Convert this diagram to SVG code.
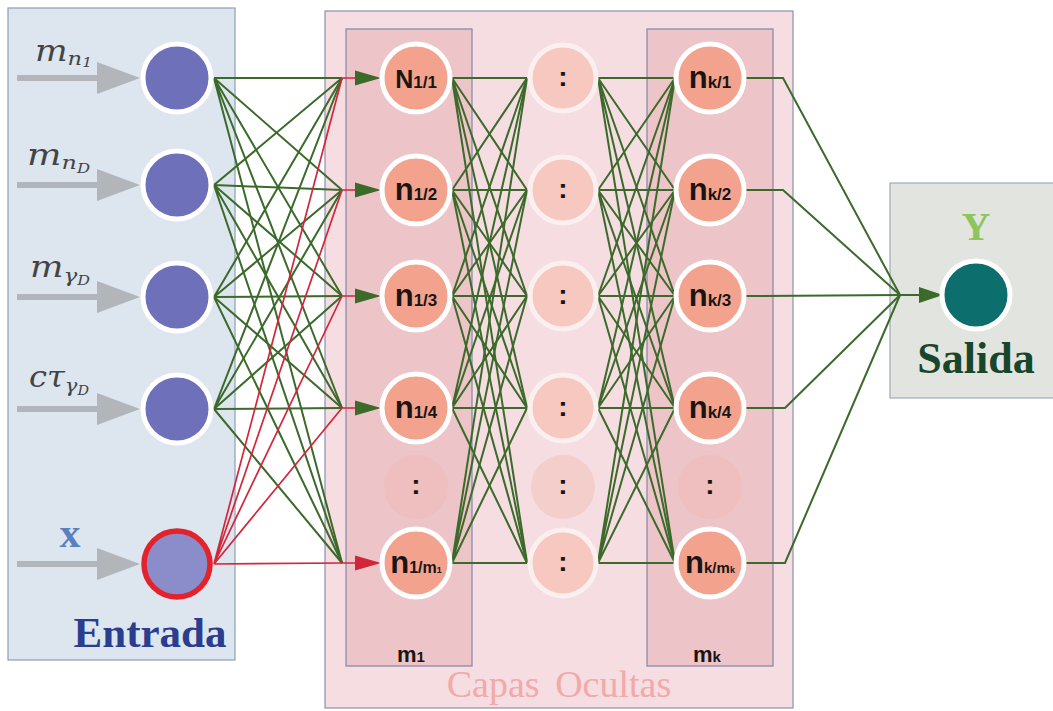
<svg xmlns="http://www.w3.org/2000/svg" width="1053" height="711" viewBox="0 0 1053 711">
<style>
.panel-in{fill:#dde5ee;stroke:#8c9fb8;stroke-width:1.2}
.panel-hid{fill:#f5dde1;stroke:#8a92b0;stroke-width:1.2}
.col{fill:#edc4c7;stroke:#7f88aa;stroke-width:1.2}
.panel-out{fill:#e2e4df;stroke:#9eaab8;stroke-width:1.2}
.inode{fill:#6e70b9;stroke:#ffffff;stroke-width:5}
.hnode{fill:#f3a38d;stroke:#ffffff;stroke-width:5}
.mnode{fill:#f6c8bf;stroke:#fbf0ef;stroke-width:5}
.dnode{fill:#eebdbb;opacity:0.75}
.dmid{fill:#f3cac4;opacity:0.8}
.g{fill:none;stroke:#3b6a2b;stroke-width:2}
.r{fill:none;stroke:#d2263a;stroke-width:1.7}
.garrow{fill:#3b6a2b}
.rarrow{fill:#d2263a}
.gray{fill:#b2b5ba}
.lab{font-family:"Liberation Sans",Arial,sans-serif;font-weight:bold;fill:#1a1414;text-anchor:middle}
.math{font-family:"DejaVu Serif","Liberation Serif",serif;font-style:italic;fill:#444}
.dots{font-family:"Liberation Sans",Arial,sans-serif;font-weight:bold;font-size:28px;fill:#1a1414;text-anchor:middle}
</style>

<!-- panels -->
<rect class="panel-in" x="8" y="8" width="227" height="652"/>
<rect class="panel-hid" x="325" y="11" width="468" height="697"/>
<rect class="col" x="346" y="29" width="126" height="637"/>
<rect class="col" x="647" y="29" width="126" height="637"/>
<rect class="panel-out" x="890" y="183" width="170" height="215"/>

<!-- input arrows -->
<g id="input-arrows">
<path class="gray" d="M17 75H97V62L140 78L97 94V81H17Z"/>
<path class="gray" d="M17 182H97V169L140 185L97 201V188H17Z"/>
<path class="gray" d="M17 294H97V281L140 297L97 313V300H17Z"/>
<path class="gray" d="M17 406H97V393L140 409L97 425V412H17Z"/>
<path class="gray" d="M17 561H97V548L140 564L97 580V567H17Z"/>
</g>

<!-- connectors -->
<g id="connectors">
<path class="g" d="M214 78L342 78M214 78L342 190M214 78L342 296M214 78L342 408M214 78L342 563"/>
<path class="g" d="M214 185L342 78M214 185L342 190M214 185L342 296M214 185L342 408M214 185L342 563"/>
<path class="g" d="M214 297L342 78M214 297L342 190M214 297L342 296M214 297L342 408M214 297L342 563"/>
<path class="g" d="M214 409L342 78M214 409L342 190M214 409L342 296M214 409L342 408M214 409L342 563"/>
<path class="r" d="M214 564L342 78M214 564L342 190M214 564L342 296M214 564L342 408M214 564L342 563"/>
<path class="r" d="M342 78H360M342 190H360M342 296H360M342 408H360M342 563H360"/>
<path class="garrow" d="M355 70.5L381 78L355 85.5Z"/>
<path class="garrow" d="M355 182.5L381 190L355 197.5Z"/>
<path class="garrow" d="M355 288.5L381 296L355 303.5Z"/>
<path class="garrow" d="M355 400.5L381 408L355 415.5Z"/>
<path class="rarrow" d="M355 555.5L381 563L355 570.5Z"/>

<path class="g" d="M452 78L527 78M452 78L527 190M452 78L527 296M452 78L527 408M452 78L527 563"/>
<path class="g" d="M452 190L527 78M452 190L527 190M452 190L527 296M452 190L527 408M452 190L527 563"/>
<path class="g" d="M452 296L527 78M452 296L527 190M452 296L527 296M452 296L527 408M452 296L527 563"/>
<path class="g" d="M452 408L527 78M452 408L527 190M452 408L527 296M452 408L527 408M452 408L527 563"/>
<path class="g" d="M452 563L527 78M452 563L527 190M452 563L527 296M452 563L527 408M452 563L527 563"/>

<path class="g" d="M598 78L675 78M598 78L675 190M598 78L675 296M598 78L675 408M598 78L675 563"/>
<path class="g" d="M598 190L675 78M598 190L675 190M598 190L675 296M598 190L675 408M598 190L675 563"/>
<path class="g" d="M598 296L675 78M598 296L675 190M598 296L675 296M598 296L675 408M598 296L675 563"/>
<path class="g" d="M598 408L675 78M598 408L675 190M598 408L675 296M598 408L675 408M598 408L675 563"/>
<path class="g" d="M598 563L675 78M598 563L675 190M598 563L675 296M598 563L675 408M598 563L675 563"/>

<path class="g" d="M746 78H783L900 295"/>
<path class="g" d="M746 190H783L900 295"/>
<path class="g" d="M746 296L900 295H922"/>
<path class="g" d="M746 408H785L900 295"/>
<path class="g" d="M746 563H785L900 295"/>
<path class="garrow" d="M919 287L943 295L919 303Z"/>
</g>

<!-- input nodes -->
<g id="in1"><circle class="inode" cx="177" cy="78" r="34"/>
<text class="math" x="35" y="61" font-size="29" textLength="57" lengthAdjust="spacingAndGlyphs">m<tspan font-size="19" dy="4">n</tspan><tspan font-size="13" dy="2">1</tspan></text></g>
<g id="in2"><circle class="inode" cx="177" cy="185" r="34"/>
<text class="math" x="27" y="165" font-size="29" textLength="63" lengthAdjust="spacingAndGlyphs">m<tspan font-size="19" dy="4">n</tspan><tspan font-size="13" dy="4">D</tspan></text></g>
<g id="in3"><circle class="inode" cx="177" cy="297" r="34"/>
<text class="math" x="30" y="277" font-size="29" textLength="60" lengthAdjust="spacingAndGlyphs">m<tspan font-size="19" dy="5">γ</tspan><tspan font-size="13" dy="3">D</tspan></text></g>
<g id="in4"><circle class="inode" cx="177" cy="409" r="34"/>
<text class="math" x="29" y="387" font-size="29" textLength="60" lengthAdjust="spacingAndGlyphs">cτ<tspan font-size="19" dy="5">γ</tspan><tspan font-size="13" dy="3">D</tspan></text></g>
<g id="in5"><circle cx="177" cy="564" r="33" fill="#8b8dca" stroke="#e3222c" stroke-width="5.5"/>
<text x="70" y="547" font-family="Liberation Serif,serif" font-weight="bold" font-size="42" fill="#5b80c2" text-anchor="middle">x</text></g>
<text x="150" y="647" font-family="Liberation Serif,serif" font-weight="bold" font-size="43" fill="#2a3d8f" text-anchor="middle">Entrada</text>

<!-- hidden layer 1 -->
<g id="h1-1"><circle class="hnode" cx="416" cy="78" r="34"/><text class="lab" x="416" y="88" font-size="25">N<tspan font-size="17">1/1</tspan></text></g>
<g id="h1-2"><circle class="hnode" cx="416" cy="190" r="34"/><text class="lab" x="416" y="200" font-size="31">n<tspan font-size="17">1/2</tspan></text></g>
<g id="h1-3"><circle class="hnode" cx="416" cy="296" r="34"/><text class="lab" x="416" y="306" font-size="31">n<tspan font-size="17">1/3</tspan></text></g>
<g id="h1-4"><circle class="hnode" cx="416" cy="408" r="34"/><text class="lab" x="416" y="418" font-size="31">n<tspan font-size="17">1/4</tspan></text></g>
<g id="h1-d"><circle class="dnode" cx="416" cy="487" r="32"/><text class="dots" x="416" y="494">:</text></g>
<g id="h1-m"><circle class="hnode" cx="416" cy="563" r="34"/><text class="lab" x="416" y="573" font-size="31">n<tspan font-size="16">1/m</tspan><tspan font-size="9">1</tspan></text></g>
<text class="lab" x="411" y="662" font-size="22">m<tspan font-size="15">1</tspan></text>

<!-- middle hidden -->
<g id="hm-1"><circle class="mnode" cx="563" cy="78" r="33"/><text class="dots" x="563" y="86">:</text></g>
<g id="hm-2"><circle class="mnode" cx="563" cy="190" r="33"/><text class="dots" x="563" y="198">:</text></g>
<g id="hm-3"><circle class="mnode" cx="563" cy="296" r="33"/><text class="dots" x="563" y="304">:</text></g>
<g id="hm-4"><circle class="mnode" cx="563" cy="408" r="33"/><text class="dots" x="563" y="416">:</text></g>
<g id="hm-d"><circle class="dmid" cx="563" cy="487" r="32"/><text class="dots" x="563" y="494">:</text></g>
<g id="hm-m"><circle class="mnode" cx="563" cy="563" r="33"/><text class="dots" x="563" y="571">:</text></g>

<!-- hidden layer k -->
<g id="hk-1"><circle class="hnode" cx="710" cy="78" r="34"/><text class="lab" x="710" y="88" font-size="31">n<tspan font-size="17">k/1</tspan></text></g>
<g id="hk-2"><circle class="hnode" cx="710" cy="190" r="34"/><text class="lab" x="710" y="200" font-size="31">n<tspan font-size="17">k/2</tspan></text></g>
<g id="hk-3"><circle class="hnode" cx="710" cy="296" r="34"/><text class="lab" x="710" y="306" font-size="31">n<tspan font-size="17">k/3</tspan></text></g>
<g id="hk-4"><circle class="hnode" cx="710" cy="408" r="34"/><text class="lab" x="710" y="418" font-size="31">n<tspan font-size="17">k/4</tspan></text></g>
<g id="hk-d"><circle class="dnode" cx="710" cy="487" r="32"/><text class="dots" x="710" y="494">:</text></g>
<g id="hk-m"><circle class="hnode" cx="710" cy="563" r="34"/><text class="lab" x="710" y="573" font-size="31">n<tspan font-size="15">k/m</tspan><tspan font-size="9">k</tspan></text></g>
<text class="lab" x="707" y="662" font-size="22">m<tspan font-size="15">k</tspan></text>

<text x="559" y="697" font-family="Liberation Serif,serif" font-size="38" fill="#f2a9a9" text-anchor="middle" word-spacing="6">Capas Ocultas</text>

<!-- output -->
<g id="out"><circle cx="976" cy="295" r="34" fill="#0d6e6e" stroke="#ffffff" stroke-width="5"/>
<text x="976" y="240" font-family="Liberation Serif,serif" font-weight="bold" font-size="40" fill="#8dc55a" text-anchor="middle">Y</text>
<text x="976" y="373" font-family="Liberation Serif,serif" font-weight="bold" font-size="44" fill="#17462c" text-anchor="middle">Salida</text></g>
</svg>
